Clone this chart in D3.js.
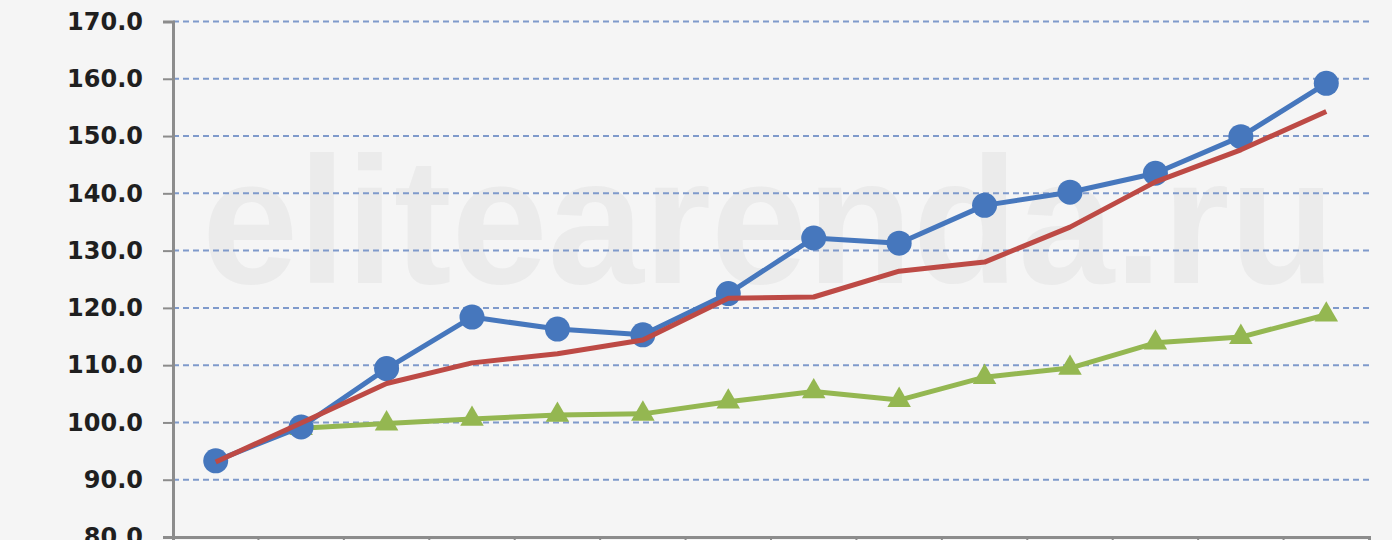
<!DOCTYPE html>
<html>
<head>
<meta charset="utf-8">
<script src="https://cdn.jsdelivr.net/npm/d3@7"></script>
<style>
  html, body { margin: 0; padding: 0; background: #f5f5f5; }
  svg { display: block; }
</style>
</head>
<body>
<svg id="chart" width="1392" height="540"></svg>
<script>
const categories = ["1","2","3","4","5","6","7","8","9","10","11","12","13","14"];
const yTicks = [80, 90, 100, 110, 120, 130, 140, 150, 160, 170];
const blueSeries  = [93.3, 99.2, 109.4, 118.4, 116.3, 115.3, 122.5, 132.2, 131.3, 137.9, 140.2, 143.5, 149.9, 159.2];
const redSeries   = [93.1, 99.9, 106.8, 110.4, 112.0, 114.4, 121.7, 121.9, 126.4, 128.0, 134.1, 142.0, 147.6, 154.3];
const greenSeries = [null, 99.0, 99.8, 100.6, 101.3, 101.5, 103.6, 105.4, 103.9, 107.9, 109.5, 113.9, 114.9, 118.8];
const watermark = "elitearenda.ru";

const svg = d3.select("#chart");
const W = 1392, H = 540;
svg.append("rect").attr("width", W).attr("height", H).attr("fill", "#f5f5f5");

const x = d3.scaleBand().domain(categories).range([173, 1369]).paddingInner(0).paddingOuter(0);
const y = d3.scaleLinear().domain([80, 170]).range([537, 21.5]);
const cx = c => x(c) + x.bandwidth() / 2;

// watermark
svg.append("text")
  .attr("x", 202).attr("y", 283)
  .attr("font-family", "Liberation Sans, Arial, sans-serif")
  .attr("font-weight", "bold")
  .attr("font-size", 180)
  .attr("fill", "#ebebeb")
  .attr("textLength", 1133)
  .attr("lengthAdjust", "spacingAndGlyphs")
  .text(watermark);

// gridlines
svg.append("g").selectAll("line")
  .data(yTicks.filter(t => t > 80))
  .join("line")
  .attr("x1", 173).attr("x2", 1369)
  .attr("y1", d => y(d)).attr("y2", d => y(d))
  .attr("stroke", "#7f9acb")
  .attr("stroke-width", 2)
  .attr("stroke-dasharray", "6,4");

// y axis
const yAxis = d3.axisLeft(y).tickValues(yTicks).tickSize(10).tickPadding(20).tickFormat(d3.format(".1f"));
const gy = svg.append("g").attr("transform", "translate(173,0)").call(yAxis);
gy.select(".domain").attr("stroke", "#8c8c8c").attr("stroke-width", 3);
gy.selectAll(".tick line").attr("stroke", "#8c8c8c").attr("stroke-width", 2);
gy.selectAll(".tick text")
  .attr("font-family", "DejaVu Sans, sans-serif")
  .attr("font-weight", "bold")
  .attr("font-size", 24)
  .attr("fill", "#1f1f1f");

// x axis
const xAxis = d3.axisBottom(x).tickSize(10).tickFormat("");
const gx = svg.append("g").attr("transform", "translate(0,537)").call(xAxis);
gx.select(".domain").attr("stroke", "#8c8c8c").attr("stroke-width", 3);
gx.selectAll(".tick").attr("transform", d => `translate(${x(d)},0)`);
gx.selectAll(".tick line").attr("stroke", "#8c8c8c").attr("stroke-width", 2);

const line = d3.line()
  .defined(d => d.v != null)
  .x(d => cx(d.c))
  .y(d => y(d.v));

const toData = arr => arr.map((v, i) => ({ c: categories[i], v }));

// green series
const gData = toData(greenSeries);
svg.append("path").datum(gData)
  .attr("d", line).attr("fill", "none")
  .attr("stroke", "#94b751").attr("stroke-width", 5).attr("stroke-linejoin", "round");
svg.append("g").selectAll("path")
  .data(gData.filter(d => d.v != null))
  .join("path")
  .attr("d", d3.symbol(d3.symbolTriangle, 240))
  .attr("transform", d => `translate(${cx(d.c)},${y(d.v)})`)
  .attr("fill", "#94b751");

// blue series
const bData = toData(blueSeries);
svg.append("path").datum(bData)
  .attr("d", line).attr("fill", "none")
  .attr("stroke", "#4677bd").attr("stroke-width", 5).attr("stroke-linejoin", "round");
svg.append("g").selectAll("circle")
  .data(bData)
  .join("circle")
  .attr("cx", d => cx(d.c)).attr("cy", d => y(d.v)).attr("r", 12.5)
  .attr("fill", "#4677bd");

// red series
const rData = toData(redSeries);
svg.append("path").datum(rData)
  .attr("d", line).attr("fill", "none")
  .attr("stroke", "#bd4a45").attr("stroke-width", 5).attr("stroke-linejoin", "round");
</script>
</body>
</html>
